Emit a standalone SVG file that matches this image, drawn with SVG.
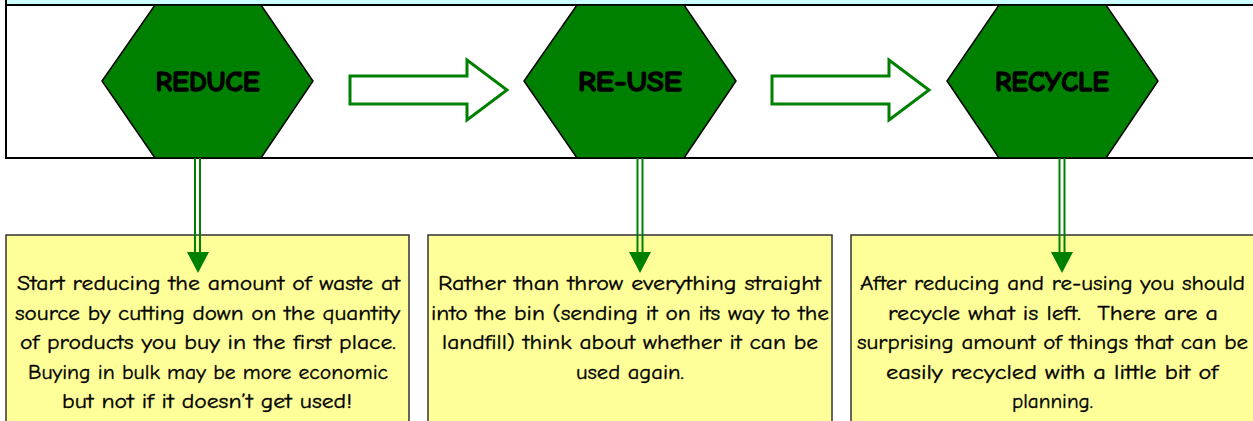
<svg xmlns="http://www.w3.org/2000/svg" width="1253" height="421" viewBox="0 0 1253 421">
<style>
.hex{fill:#008000;stroke:#000;stroke-width:1.5}
.title{font-family:"Comic Sans MS","Comic Neue","DejaVu Sans",sans-serif;font-weight:bold;font-size:28px;fill:#000;stroke:#000;stroke-width:1.3;text-anchor:middle}
.box{fill:#FFFF99;stroke:#333;stroke-width:1.5}
.body{font-family:"Comic Sans MS","Comic Neue","DejaVu Sans",sans-serif;font-size:20.5px;fill:#000;stroke:#000;stroke-width:0.35;text-anchor:middle}
.blk{fill:#fff;stroke:#008000;stroke-width:3}
.dl{stroke:#008000;stroke-width:2;fill:none}
.ah{fill:#008000}
</style>
<rect x="0" y="0" width="1253" height="421" fill="#fff"/>
<rect x="6" y="-10" width="1260" height="15" fill="#CCFFFF" stroke="#000" stroke-width="2"/>
<rect id="band" x="6" y="5" width="1260" height="153" fill="#fff" stroke="#000" stroke-width="2"/>

<g id="reduce">
  <polygon class="hex" points="155,5 261,5 313,81 261,158 155,158 102,81"/>
  <text class="title" x="207.5" y="91" textLength="104" lengthAdjust="spacingAndGlyphs">REDUCE</text>
</g>
<g id="reuse">
  <polygon class="hex" points="577,5 684,5 736,81 684,158 577,158 524,81"/>
  <text class="title" x="630" y="91" textLength="104" lengthAdjust="spacingAndGlyphs">RE-USE</text>
</g>
<g id="recycle">
  <polygon class="hex" points="999,5 1106,5 1158,81 1106,158 999,158 947,81"/>
  <text class="title" x="1052" y="91" textLength="114" lengthAdjust="spacingAndGlyphs">RECYCLE</text>
</g>

<g id="reduce-note">
  <rect class="box" x="6" y="235" width="403" height="200"/>
  <text class="body" x="208.5" y="290" textLength="383" lengthAdjust="spacingAndGlyphs">Start reducing the amount of waste at</text>
  <text class="body" x="207.5" y="319.5" textLength="385" lengthAdjust="spacingAndGlyphs">source by cutting down on the quantity</text>
  <text class="body" x="208" y="349" textLength="376" lengthAdjust="spacingAndGlyphs">of products you buy in the first place.</text>
  <text class="body" x="208" y="378.5" textLength="360" lengthAdjust="spacingAndGlyphs">Buying in bulk may be more economic</text>
  <text class="body" x="207" y="408" textLength="290" lengthAdjust="spacingAndGlyphs">but not if it doesn’t get used!</text>
</g>
<g id="reuse-note">
  <rect class="box" x="428" y="235" width="404" height="200"/>
  <text class="body" x="629.5" y="290" textLength="383" lengthAdjust="spacingAndGlyphs">Rather than throw everything straight</text>
  <text class="body" x="630" y="319.5" textLength="398" lengthAdjust="spacingAndGlyphs">into the bin (sending it on its way to the</text>
  <text class="body" x="630" y="349" textLength="376" lengthAdjust="spacingAndGlyphs">landfill) think about whether it can be</text>
  <text class="body" x="630" y="378.5" textLength="108" lengthAdjust="spacingAndGlyphs">used again.</text>
</g>
<g id="recycle-note">
  <rect class="box" x="851" y="235" width="420" height="200"/>
  <text class="body" x="1052.5" y="290" textLength="385" lengthAdjust="spacingAndGlyphs">After reducing and re-using you should</text>
  <text class="body" x="1053" y="319.5" textLength="330" lengthAdjust="spacingAndGlyphs" xml:space="preserve">recycle what is left.  There are a</text>
  <text class="body" x="1052.5" y="349" textLength="391" lengthAdjust="spacingAndGlyphs">surprising amount of things that can be</text>
  <text class="body" x="1052" y="378.5" textLength="332" lengthAdjust="spacingAndGlyphs">easily recycled with a little bit of</text>
  <text class="body" x="1052.5" y="408" textLength="81" lengthAdjust="spacingAndGlyphs">planning.</text>
</g>

<g id="connectors">
  <polygon class="blk" points="350,76 467,76 467,60 507,90 467,120 467,104 350,104"/>
  <polygon class="blk" points="772,76 889,76 889,60 929,90 889,120 889,104 772,104"/>
  <line class="dl" x1="195" y1="158" x2="195" y2="254"/>
  <line class="dl" x1="200" y1="158" x2="200" y2="254"/>
  <polygon class="ah" points="187,252 209,252 198,273"/>
  <line class="dl" x1="637.5" y1="158" x2="637.5" y2="254"/>
  <line class="dl" x1="642.5" y1="158" x2="642.5" y2="254"/>
  <polygon class="ah" points="629,252 651,252 640,273"/>
  <line class="dl" x1="1059.5" y1="158" x2="1059.5" y2="254"/>
  <line class="dl" x1="1064.5" y1="158" x2="1064.5" y2="254"/>
  <polygon class="ah" points="1051,252 1073,252 1062,273"/>
</g>
</svg>
